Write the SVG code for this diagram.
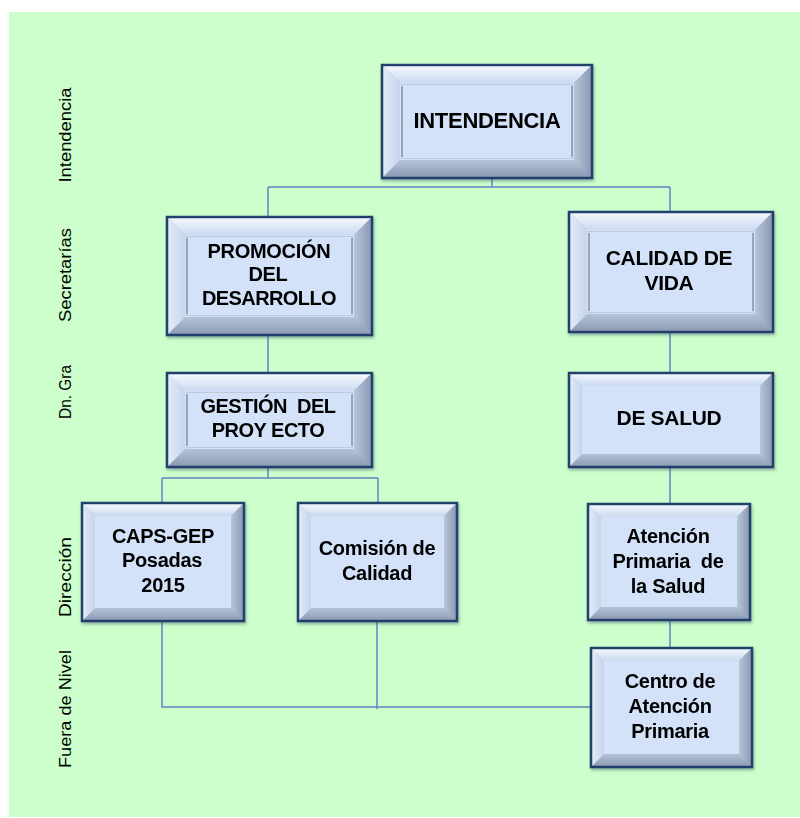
<svg xmlns="http://www.w3.org/2000/svg" width="800" height="818" viewBox="0 0 800 818">
  <defs>
    <linearGradient id="gTop" x1="0" y1="0" x2="0" y2="1">
      <stop offset="0" stop-color="#f6f9fe"/>
      <stop offset="1" stop-color="#cbdaf0"/>
    </linearGradient>
    <linearGradient id="gLeft" x1="0" y1="0" x2="1" y2="0">
      <stop offset="0" stop-color="#e4ecf9"/>
      <stop offset="1" stop-color="#c6d5ec"/>
    </linearGradient>
    <linearGradient id="gRight" x1="0" y1="0" x2="1" y2="0">
      <stop offset="0" stop-color="#b8c6dc"/>
      <stop offset="1" stop-color="#8896b0"/>
    </linearGradient>
    <linearGradient id="gBottom" x1="0" y1="0" x2="0" y2="1">
      <stop offset="0" stop-color="#b4c2d9"/>
      <stop offset="1" stop-color="#8a98b2"/>
    </linearGradient>
    <filter id="soft" x="-10%" y="-10%" width="120%" height="130%">
      <feGaussianBlur in="SourceAlpha" stdDeviation="1.5"/>
      <feOffset dx="1" dy="2" result="b"/>
      <feFlood flood-color="#3a4d6e" flood-opacity="0.45"/>
      <feComposite in2="b" operator="in"/>
      <feMerge><feMergeNode/><feMergeNode in="SourceGraphic"/></feMerge>
    </filter>
  </defs>
  <style>
    .bg { fill: #ccffcc; }
    .bt { fill: url(#gTop); }
    .bl { fill: url(#gLeft); }
    .br { fill: url(#gRight); }
    .bb { fill: url(#gBottom); }
    .face { fill: #d3e2f8; }
    .inner { fill: none; stroke: #bcc9dc; stroke-width: 1; }
    .edge { stroke: #8794ab; stroke-width: 1.5; }
    .frame { fill: none; stroke: #24406c; stroke-width: 2.5; }
    .node { filter: url(#soft); }
    .lbl { font-family: "Liberation Sans", Arial, sans-serif; font-size: 20px; font-weight: bold; fill: #000; text-anchor: middle; white-space: pre; letter-spacing: -0.3px; }
    .lvl { font-family: "Liberation Sans", Arial, sans-serif; font-size: 17px; fill: #000; text-anchor: middle; }
    .conn { fill: none; stroke: #5b86c2; stroke-width: 1.5; }
  </style>

  <rect class="bg" x="9" y="12" width="791" height="805"/>

  <!-- level names on the left -->
  <g id="levels">
    <text class="lvl" transform="translate(71,135) rotate(-90)" textLength="95" lengthAdjust="spacingAndGlyphs">Intendencia</text>
    <text class="lvl" transform="translate(71,275) rotate(-90)" textLength="94" lengthAdjust="spacingAndGlyphs">Secretarías</text>
    <text class="lvl" transform="translate(71,392) rotate(-90)" textLength="54" lengthAdjust="spacingAndGlyphs">Dn. Gra</text>
    <text class="lvl" transform="translate(71,577) rotate(-90)" textLength="80" lengthAdjust="spacingAndGlyphs">Dirección</text>
    <text class="lvl" transform="translate(71,709) rotate(-90)" textLength="118" lengthAdjust="spacingAndGlyphs">Fuera de Nivel</text>
  </g>

  <!-- connectors -->
  <g id="connectors">
    <path class="conn" d="M492,178 V187 M268,187 H670 M268,187 V217 M670,187 V212"/>
    <path class="conn" d="M268,335 V373"/>
    <path class="conn" d="M670,332 V373"/>
    <path class="conn" d="M268,467 V478 M162,478 H378 M162,478 V503 M378,478 V503"/>
    <path class="conn" d="M670,467 V504"/>
    <path class="conn" d="M670,620 V648"/>
    <path class="conn" d="M162,621 V707 H591 M377,621 V709"/>
  </g>

  <!-- INTENDENCIA -->
  <g id="intendencia" class="node">
    <polygon class="bt" points="382,65 592,65 574,83 400,83"/>
    <polygon class="bb" points="382,178 592,178 574,160 400,160"/>
    <polygon class="bl" points="382,65 400,83 400,160 382,178"/>
    <polygon class="br" points="592,65 574,83 574,160 592,178"/>
    <rect class="face" x="400" y="83" width="174" height="77"/>
    <rect class="inner" x="401.5" y="84.5" width="171" height="74"/>
    <path class="edge" d="M402,86 V157 M572,86 V157"/>
    <rect class="frame" x="382" y="65" width="210" height="113"/>
    <text class="lbl" x="487" y="128" style="font-size:22px">INTENDENCIA</text>
  </g>

  <!-- PROMOCIÓN DEL DESARROLLO -->
  <g id="promocion" class="node">
    <polygon class="bt" points="167,217 372,217 354,235 185,235"/>
    <polygon class="bb" points="167,335 372,335 354,317 185,317"/>
    <polygon class="bl" points="167,217 185,235 185,317 167,335"/>
    <polygon class="br" points="372,217 354,235 354,317 372,335"/>
    <rect class="face" x="185" y="235" width="169" height="82"/>
    <rect class="inner" x="186.5" y="236.5" width="166" height="79"/>
    <path class="edge" d="M187,238 V314 M352,238 V314"/>
    <rect class="frame" x="167" y="217" width="205" height="118"/>
    <text class="lbl" x="269" y="258">PROMOCIÓN</text>
    <text class="lbl" x="268" y="281">DEL</text>
    <text class="lbl" x="269" y="305" style="letter-spacing:-0.6px">DESARROLLO</text>
  </g>

  <!-- CALIDAD DE VIDA -->
  <g id="calidad" class="node">
    <polygon class="bt" points="569,212 773,212 755,230 587,230"/>
    <polygon class="bb" points="569,332 773,332 755,314 587,314"/>
    <polygon class="bl" points="569,212 587,230 587,314 569,332"/>
    <polygon class="br" points="773,212 755,230 755,314 773,332"/>
    <rect class="face" x="587" y="230" width="168" height="84"/>
    <rect class="inner" x="588.5" y="231.5" width="165" height="81"/>
    <path class="edge" d="M589,233 V311 M753,233 V311"/>
    <rect class="frame" x="569" y="212" width="204" height="120"/>
    <text class="lbl" x="669" y="265" style="font-size:21px">CALIDAD DE</text>
    <text class="lbl" x="669" y="290" style="font-size:21px">VIDA</text>
  </g>

  <!-- GESTIÓN DEL PROYECTO -->
  <g id="gestion" class="node">
    <polygon class="bt" points="167,373 372,373 354,391 185,391"/>
    <polygon class="bb" points="167,467 372,467 354,449 185,449"/>
    <polygon class="bl" points="167,373 185,391 185,449 167,467"/>
    <polygon class="br" points="372,373 354,391 354,449 372,467"/>
    <rect class="face" x="185" y="391" width="169" height="58"/>
    <rect class="inner" x="186.5" y="392.5" width="166" height="55"/>
    <path class="edge" d="M187,394 V446 M352,394 V446"/>
    <rect class="frame" x="167" y="373" width="205" height="94"/>
    <text class="lbl" x="268" y="413" style="letter-spacing:-0.5px">GESTIÓN  DEL</text>
    <text class="lbl" x="268" y="437" style="letter-spacing:-0.5px">PROY ECTO</text>
  </g>

  <!-- DE SALUD -->
  <g id="salud" class="node">
    <polygon class="bt" points="569,373 773,373 760,386 582,386"/>
    <polygon class="bb" points="569,467 773,467 760,454 582,454"/>
    <polygon class="bl" points="569,373 582,386 582,454 569,467"/>
    <polygon class="br" points="773,373 760,386 760,454 773,467"/>
    <rect class="face" x="582" y="386" width="178" height="68"/>
    <rect class="frame" x="569" y="373" width="204" height="94"/>
    <text class="lbl" x="669" y="425" style="font-size:21px">DE SALUD</text>
  </g>

  <!-- CAPS-GEP Posadas 2015 -->
  <g id="caps" class="node">
    <polygon class="bt" points="82,503 244,503 231,516 95,516"/>
    <polygon class="bb" points="82,621 244,621 231,608 95,608"/>
    <polygon class="bl" points="82,503 95,516 95,608 82,621"/>
    <polygon class="br" points="244,503 231,516 231,608 244,621"/>
    <rect class="face" x="95" y="516" width="136" height="92"/>
    <rect class="frame" x="82" y="503" width="162" height="118"/>
    <text class="lbl" x="163" y="543">CAPS-GEP</text>
    <text class="lbl" x="162" y="567">Posadas</text>
    <text class="lbl" x="163" y="592">2015</text>
  </g>

  <!-- Comisión de Calidad -->
  <g id="comision" class="node">
    <polygon class="bt" points="298,503 457,503 444,516 311,516"/>
    <polygon class="bb" points="298,621 457,621 444,608 311,608"/>
    <polygon class="bl" points="298,503 311,516 311,608 298,621"/>
    <polygon class="br" points="457,503 444,516 444,608 457,621"/>
    <rect class="face" x="311" y="516" width="133" height="92"/>
    <rect class="frame" x="298" y="503" width="159" height="118"/>
    <text class="lbl" x="377" y="555">Comisión de</text>
    <text class="lbl" x="377" y="580">Calidad</text>
  </g>

  <!-- Atención Primaria de la Salud -->
  <g id="atencion" class="node">
    <polygon class="bt" points="588,504 750,504 737,517 601,517"/>
    <polygon class="bb" points="588,620 750,620 737,607 601,607"/>
    <polygon class="bl" points="588,504 601,517 601,607 588,620"/>
    <polygon class="br" points="750,504 737,517 737,607 750,620"/>
    <rect class="face" x="601" y="517" width="136" height="90"/>
    <rect class="frame" x="588" y="504" width="162" height="116"/>
    <text class="lbl" x="668" y="543">Atención</text>
    <text class="lbl" x="668" y="568">Primaria  de</text>
    <text class="lbl" x="668" y="593">la Salud</text>
  </g>

  <!-- Centro de Atención Primaria -->
  <g id="centro" class="node">
    <polygon class="bt" points="591,648 752,648 739,661 604,661"/>
    <polygon class="bb" points="591,767 752,767 739,754 604,754"/>
    <polygon class="bl" points="591,648 604,661 604,754 591,767"/>
    <polygon class="br" points="752,648 739,661 739,754 752,767"/>
    <rect class="face" x="604" y="661" width="135" height="93"/>
    <rect class="frame" x="591" y="648" width="161" height="119"/>
    <text class="lbl" x="670" y="688">Centro de</text>
    <text class="lbl" x="670" y="713">Atención</text>
    <text class="lbl" x="670" y="738">Primaria</text>
  </g>
</svg>
